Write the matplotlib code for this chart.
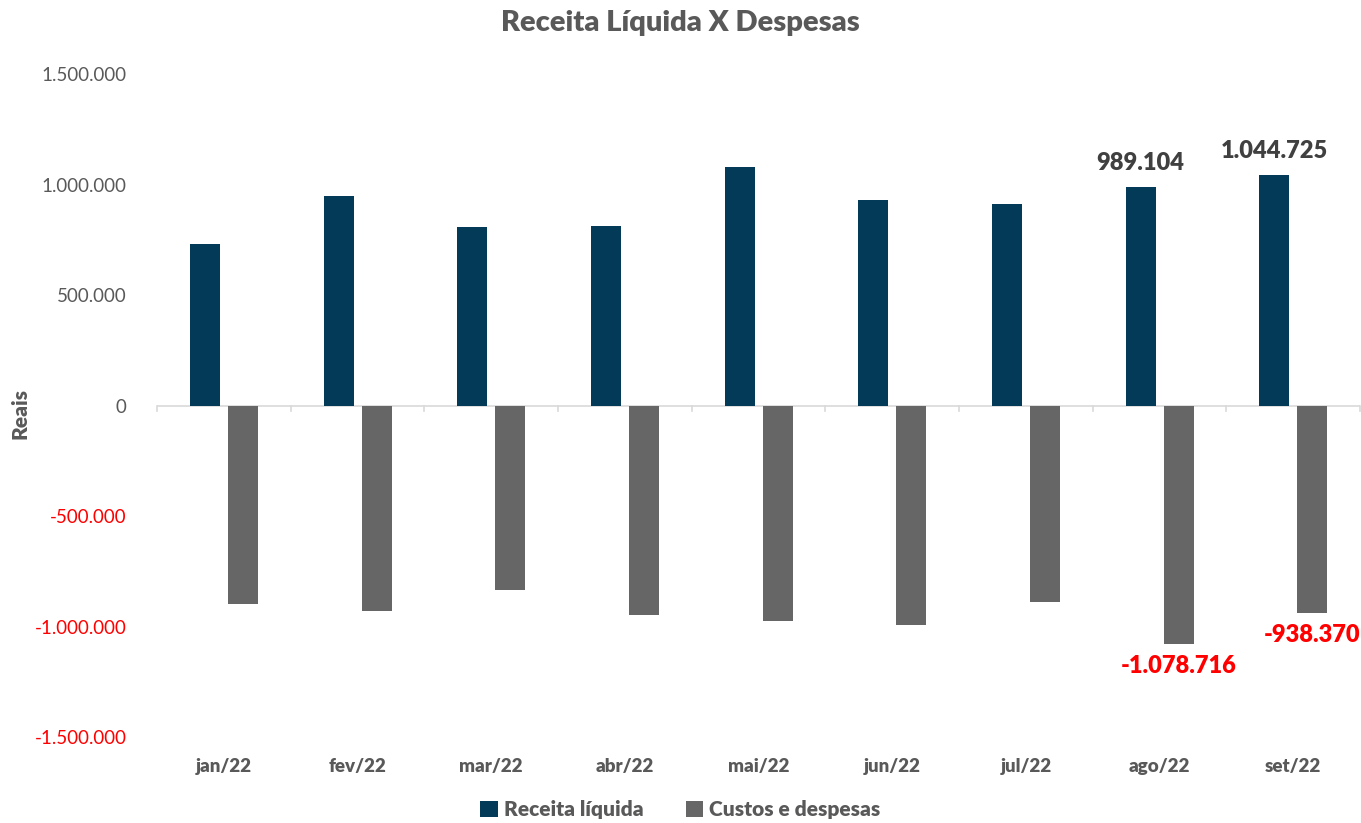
import matplotlib
matplotlib.use("Agg")
import matplotlib.pyplot as plt
import numpy as np
from matplotlib.ticker import FuncFormatter

plt.rcParams['font.family'] = ['Lato', 'DejaVu Sans']

months = ["jan/22", "fev/22", "mar/22", "abr/22", "mai/22", "jun/22", "jul/22", "ago/22", "set/22"]
receita = [733000, 946000, 806000, 811000, 1081000, 928000, 914000, 989104, 1044725]
custos = [-896000, -932000, -833000, -946000, -973000, -995000, -887000, -1078716, -938370]
labeled = [7, 8]

BLUE = "#023A57"
GREY_BAR = "#666666"
TXT = "#595959"
RED = "#FF0000"
BOLD = "heavy"


def br(v):
    s = f"{abs(int(round(v))):,}".replace(",", ".")
    return ("-" + s) if v < 0 else s


fig = plt.figure(figsize=(13.61, 8.23), dpi=100)
ax = fig.add_axes([0.1154, 0.1045, 0.8839, 0.8055])

x = np.arange(len(months))
w = 0.224
off = 0.142
ax.bar(x - off, receita, width=w, color=BLUE, label="Receita líquida", zorder=3)
ax.bar(x + off, custos, width=w, color=GREY_BAR, label="Custos e despesas", zorder=3)

ax.set_xlim(-0.5, len(months) - 0.5)
ax.set_ylim(-1500000, 1500000)
ax.set_yticks(np.arange(-1500000, 1500001, 500000))
ax.yaxis.set_major_formatter(FuncFormatter(lambda v, p: br(v)))
ax.tick_params(axis='y', length=0, pad=22, labelsize=13.5)
for t, v in zip(ax.get_yticklabels(), ax.get_yticks()):
    t.set_color(RED if v < 0 else TXT)

for s in ax.spines.values():
    s.set_visible(False)
ax.axhline(0, color="#D9D9D9", lw=1.2, zorder=2)
# category separator ticks along the zero line
for b in np.arange(-0.5, len(months), 1.0):
    ax.plot([b, b], [0, -25000], color="#D9D9D9", lw=1.2, zorder=2, clip_on=False)

# month labels just below the plotting area
ax.set_xticks([])
for i, m in enumerate(months):
    ax.annotate(m, (i, 0), xycoords=("data", "axes fraction"), xytext=(0, -15),
                textcoords="offset points", ha="center", va="top", fontsize=13.5,
                fontweight=BOLD, color=TXT)

for i in labeled:
    ax.annotate(br(receita[i]), (x[i] - off, receita[i]), xytext=(0, 9),
                textcoords="offset points", ha="center", va="bottom",
                fontsize=17, fontweight=BOLD, color="#404040")
    ax.annotate(br(custos[i]), (x[i] + off, custos[i]), xytext=(0, -8),
                textcoords="offset points", ha="center", va="top",
                fontsize=17, fontweight=BOLD, color=RED)

fig.text(0.0147, 0.498, "Reais", rotation=90, ha="center", va="center",
         fontsize=15, fontweight=BOLD, color=TXT)
fig.suptitle("Receita Líquida X Despesas", fontsize=21, fontweight=BOLD, color=TXT, y=0.988)

leg = fig.legend(loc="lower center", bbox_to_anchor=(0.5, -0.018), ncol=2, frameon=False,
                 fontsize=15, handlelength=0.85, handleheight=0.85, handletextpad=0.3,
                 columnspacing=2.0)
for t in leg.get_texts():
    t.set_color(TXT)
    t.set_fontweight(BOLD)

fig.savefig("out.png", dpi=100)
